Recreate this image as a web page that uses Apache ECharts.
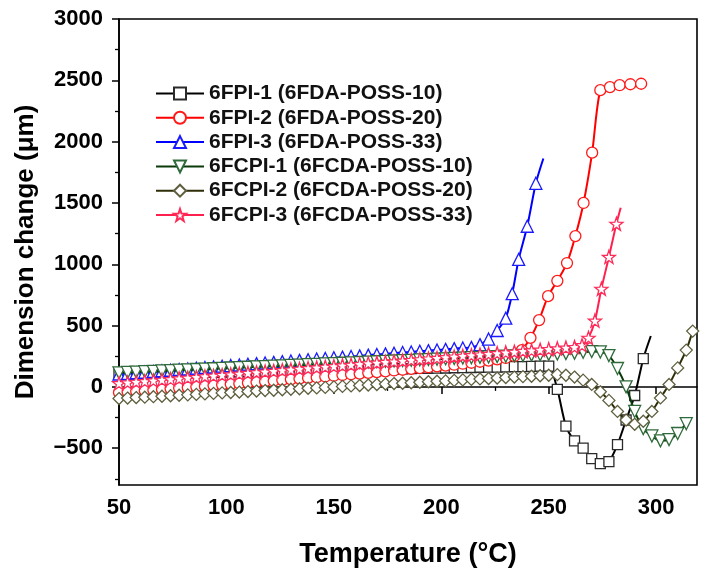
<!DOCTYPE html>
<html>
<head>
<meta charset="utf-8">
<script src="https://cdn.jsdelivr.net/npm/echarts@6/dist/echarts.min.js"></script>
<style>
html,body{margin:0;padding:0;background:#fff;}
#chart{width:706px;height:582px;}
</style>
</head>
<body>
<div id="chart"></div>
<script>
// ---------------- data ----------------
const seriesNames = [
  '6FPI-1 (6FDA-POSS-10)',
  '6FPI-2 (6FDA-POSS-20)',
  '6FPI-3 (6FDA-POSS-33)',
  '6FCPI-1 (6FCDA-POSS-10)',
  '6FCPI-2 (6FCDA-POSS-20)',
  '6FCPI-3 (6FCDA-POSS-33)'
];
const xTickValues = [50, 100, 150, 200, 250, 300];
const xMinorValues = [75, 125, 175, 225, 275];
const yTickValues = [-500, 0, 500, 1000, 1500, 2000, 2500, 3000];
const yMinorValues = [-750, -250, 250, 750, 1250, 1750, 2250, 2750];

// shared temperatures of the densely marked, nearly linear part (°C)
const flatTemps = [50,54,58,62,66,70,74,78,82,86,90,94,98,102,106,110,114,118,122,126,130,134,138,142,146,150,154,158,162,166,170,174,178,182,186,190,194,198,202,206,210,214,218,222,226,230,234,238,242,246,250,254,258,262];

// 6FPI-1 (black squares)
const fpi1Flat = [105,106,108,109,110,112,113,114,115,117,118,119,121,122,123,125,126,127,128,130,131,132,134,135,136,138,139,140,141,143,144,145,147,148,149,151,152,153,154,156,157,158,160,161,162,164,165,166,167,169,170];
const fpi1TailT = [254,258,262,266,270,274,278,282,286,290,294];
const fpi1TailV = [-20,-320,-440,-500,-585,-625,-610,-470,-270,-70,230];
const fpi1End = [297.5, 415];

// 6FPI-2 (red circles)
const fpi2Flat = [-45,-40,-35,-30,-25,-19,-14,-9,-4,1,6,12,17,23,28,34,39,45,50,56,62,67,73,79,85,91,97,103,109,115,121,127,134,140,147,153,160,167,174,181,189,197,205,214,224,236,252];
const fpi2TailT = [237.5,241.5,245.5,249.7,254,258.5,262.4,266.2,270.2,274,278.5,283,288,293];
const fpi2TailV = [300,400,545,740,865,1010,1230,1500,1910,2420,2445,2460,2468,2472];
const fpi2End = null;

// 6FPI-3 (blue triangles)
const fpi3Flat = [105,110,116,121,126,132,137,142,147,153,158,163,169,174,179,185,190,195,200,206,211,216,222,227,232,238,243,248,253,259,264,269,275,280,285,291,296,301,306,312,317,322];
const fpi3TailT = [218,222,226,230,233,236,240,244];
const fpi3TailV = [345,390,460,560,760,1040,1310,1660];
const fpi3End = [247.5, 1862];

// 6FCPI-1 (dark green down-triangles)
const fcpi1Flat = [115,118,121,124,127,130,133,136,139,142,145,148,151,154,157,160,163,166,169,172,175,178,181,184,187,190,193,196,199,202,205,208,211,214,217,220,223,226,229,232,235,238,241,244,247,250,253,256,259,262,265,268,271,274];
const fcpi1TailT = [266,270,274,278,282,286,290,294,298,302,306,310,314];
const fcpi1TailV = [282,288,285,255,150,0,-200,-340,-400,-440,-430,-380,-300];
const fcpi1End = [316, -260];

// 6FCPI-2 (olive diamonds)
const fcpi2Flat = [-95,-91,-87,-84,-80,-76,-72,-68,-65,-61,-57,-53,-49,-46,-42,-38,-34,-30,-27,-23,-19,-15,-11,-8,-4,0,4,8,11,15,19,23,27,30,34,38,42,46,49,53,57,61,65,68,72,76,80,84,87,91,95];
const fcpi2TailT = [254,258,262,266,270,274,278,282,286,290,294,298,302,306,310,314,317];
const fcpi2TailV = [100,95,80,55,20,-40,-110,-200,-270,-305,-280,-200,-90,20,155,300,455];
const fcpi2End = null;

// 6FCPI-3 (pink-red stars)
const fcpi3Flat = [30,36,41,47,52,58,63,69,75,80,86,91,97,102,108,114,119,125,130,136,141,147,153,158,164,169,175,180,186,192,197,203,208,214,219,225,231,236,242,247,253,258,264,269,275,281,286,292,297,303,308,314,320,325];
const fcpi3TailT = [265.5,268.5,271.5,274.5,278,281.5];
const fcpi3TailV = [340,400,540,800,1060,1330];
const fcpi3End = [283.5, 1460];

// ---------------- chart ----------------
const FONT = '"Liberation Sans", Arial, sans-serif';
const starPath = 'path://M0,-10L2.35,-3.24L9.51,-3.09L3.8,1.24L5.88,8.09L0,4L-5.88,8.09L-3.8,1.24L-9.51,-3.09L-2.35,-3.24Z';

function buildData(flat, tT, tV, end) {
  const d = [];
  for (let i = 0; i < flat.length; i++) d.push([flatTemps[i], flat[i]]);
  for (let i = 0; i < tT.length; i++) d.push([tT[i], tV[i]]);
  if (end) d.push({ value: end, symbol: 'none' });
  return d;
}

const styles = [
  { line: '#000000', mark: '#2a2a2a', symbol: 'rect', size: 10, rot: 0, flat: fpi1Flat, tT: fpi1TailT, tV: fpi1TailV, end: fpi1End },
  { line: '#ff0000', mark: '#ff1a1a', symbol: 'circle', size: 11, rot: 0, flat: fpi2Flat, tT: fpi2TailT, tV: fpi2TailV, end: fpi2End },
  { line: '#0000ff', mark: '#1a1aff', symbol: 'triangle', size: 12, rot: 0, flat: fpi3Flat, tT: fpi3TailT, tV: fpi3TailV, end: fpi3End },
  { line: '#0a3a0a', mark: '#2f6a3a', symbol: 'triangle', size: 12, rot: 180, flat: fcpi1Flat, tT: fcpi1TailT, tV: fcpi1TailV, end: fcpi1End },
  { line: '#2e2e08', mark: '#5f5f3f', symbol: 'diamond', size: 12, rot: 0, flat: fcpi2Flat, tT: fcpi2TailT, tV: fcpi2TailV, end: fcpi2End },
  { line: '#ff2050', mark: '#ff2a58', symbol: starPath, size: 13, rot: 0, flat: fcpi3Flat, tT: fcpi3TailT, tV: fcpi3TailV, end: fcpi3End }
];

const series = styles.map((s, i) => ({
  name: seriesNames[i],
  type: 'line',
  xAxisIndex: 0,
  yAxisIndex: 0,
  data: buildData(s.flat, s.tT, s.tV, s.end),
  symbol: s.symbol,
  symbolSize: s.size,
  symbolRotate: s.rot,
  showSymbol: true,
  showAllSymbol: true,
  smooth: 0.25,
  animation: false,
  lineStyle: { color: s.line, width: 2 },
  itemStyle: { color: '#ffffff', borderColor: s.mark, borderWidth: 1.3 },
  emphasis: { disabled: true },
  z: 2 + i
}));

const axisCommon = {
  axisLine: { show: true, lineStyle: { color: '#000', width: 1.6 } },
  splitLine: { show: false }
};
const plainNum = v => (v < 0 ? '\u2212' + String(-v) : String(v));

const option = {
  backgroundColor: '#ffffff',
  animation: false,
  grid: { left: 119, right: 9, top: 19, bottom: 97, show: true, borderColor: '#000', borderWidth: 1.6, backgroundColor: 'transparent' },
  legend: {
    orient: 'vertical',
    left: 150,
    top: 78,
    itemWidth: 48,
    itemHeight: 15,
    itemGap: 3.3,
    data: seriesNames,
    textStyle: { fontFamily: FONT, fontWeight: 'bold', fontSize: 21, color: '#111', lineHeight: 20 }
  },
  xAxis: [
    Object.assign({}, axisCommon, {
      type: 'value', min: 50, max: 319, position: 'bottom',
      name: 'Temperature (\u00B0C)', nameLocation: 'middle', nameGap: 56,
      nameTextStyle: { fontFamily: FONT, fontWeight: 'bold', fontSize: 27, color: '#000' },
      axisTick: { show: true, inside: false, length: 7, lineStyle: { color: '#000', width: 1.5 }, customValues: xTickValues },
      axisLabel: { fontFamily: FONT, fontWeight: 'bold', fontSize: 22, color: '#000', margin: 12, customValues: xTickValues, formatter: plainNum }
    }),
    {
      type: 'value', min: 50, max: 319, position: 'bottom', gridIndex: 0,
      axisLine: { show: false }, splitLine: { show: false }, axisLabel: { show: false },
      axisTick: { show: true, length: 4, lineStyle: { color: '#000', width: 1.3 }, customValues: xMinorValues }
    }
  ],
  yAxis: [
    Object.assign({}, axisCommon, {
      type: 'value', min: -800, max: 3000, position: 'left',
      name: 'Dimension change (\u03BCm)', nameLocation: 'middle', nameGap: 80, nameRotate: 90,
      nameTextStyle: { fontFamily: FONT, fontWeight: 'bold', fontSize: 26, color: '#000' },
      axisTick: { show: true, inside: false, length: 7, lineStyle: { color: '#000', width: 1.5 }, customValues: yTickValues },
      axisLabel: { fontFamily: FONT, fontWeight: 'bold', fontSize: 22, color: '#000', margin: 16, customValues: yTickValues, formatter: plainNum }
    }),
    {
      type: 'value', min: -800, max: 3000, position: 'left', gridIndex: 0,
      axisLine: { show: false }, splitLine: { show: false }, axisLabel: { show: false },
      axisTick: { show: true, length: 4, lineStyle: { color: '#000', width: 1.3 }, customValues: yMinorValues }
    }
  ],
  series: series
};

const chart = echarts.init(document.getElementById('chart'), null, { renderer: 'canvas' });
chart.setOption(option);
</script>
</body>
</html>
